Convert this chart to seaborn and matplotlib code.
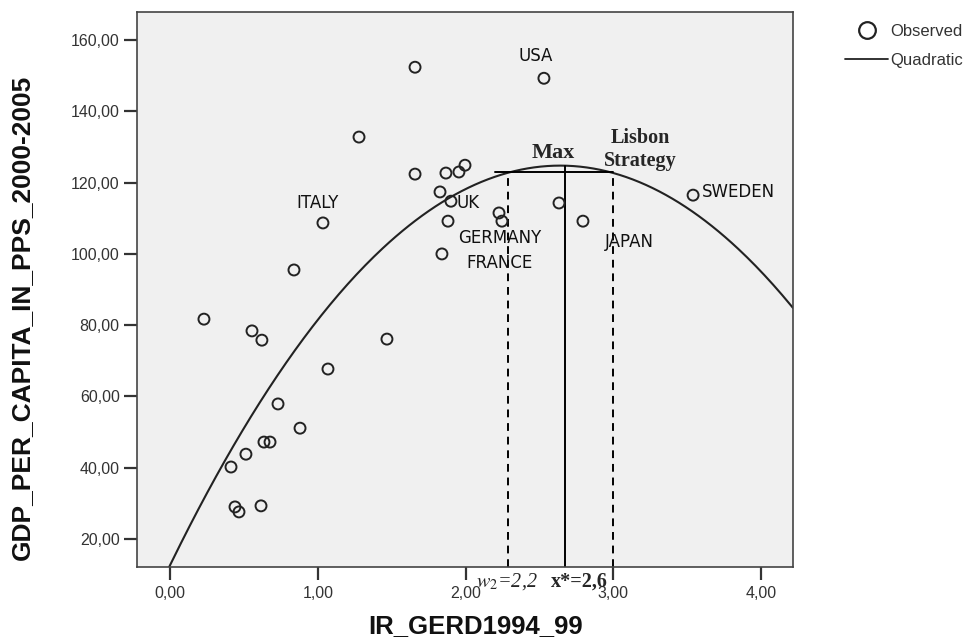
import numpy as np
import pandas as pd
import matplotlib
matplotlib.use("Agg")
import matplotlib.pyplot as plt
from matplotlib.lines import Line2D
from matplotlib.ticker import FuncFormatter
import seaborn as sns

ir_gerd = [0.23, 0.555, 0.622, 0.839, 1.035, 1.279, 1.658, 1.658, 1.867, 1.955,
           1.996, 1.827, 1.901, 1.881, 1.840, 2.226, 2.246, 2.530, 2.632, 2.794,
           3.539, 1.468, 1.069, 0.731, 0.880, 0.636, 0.677, 0.514, 0.413, 0.440,
           0.467, 0.616]
gdp_pps = [81.7, 78.4, 75.8, 95.5, 108.7, 132.8, 152.4, 122.4, 122.7, 123.0,
           124.9, 117.4, 114.8, 109.2, 100.0, 111.5, 109.2, 149.3, 114.3, 109.2,
           116.5, 76.1, 67.7, 57.9, 51.1, 47.2, 47.2, 43.8, 40.2, 29.0,
           27.6, 29.3]

# quadratic fit coefficients: y = b0 + b1*x + b2*x^2
b0, b1, b2 = 12.6, 85.0, -16.1

country_names = ["USA", "ITALY", "UK", "GERMANY", "FRANCE", "JAPAN", "SWEDEN"]
country_x = [2.476, 1.0, 1.94, 2.23, 2.23, 3.105, 3.60]
country_y = [155.5, 114.3, 114.3, 104.4, 97.4, 103.3, 117.4]
country_ha = ["center", "center", "left", "center", "center", "center", "left"]

# reference lines
w2_x = 2.29
xstar_x = 2.67
lisbon_x = 3.0
plateau_y = 123.0
peak_y = 124.8

xticks = [0, 1, 2, 3, 4]
yticks = [20, 40, 60, 80, 100, 120, 140, 160]

ink = "#222222"

sns.set_style("ticks")
plt.rcParams["font.family"] = ["Liberation Sans", "DejaVu Sans"]
plt.rcParams["mathtext.fontset"] = "stix"

fig = plt.figure(figsize=(9.68, 6.41), dpi=100)
ax = fig.add_axes([137 / 968, 1 - 567 / 641, 656 / 968, 555 / 641])
ax.set_facecolor("#f0f0f0")

xlim = (-0.223, 4.215)
ylim = (12.14, 167.9)

df = pd.DataFrame({"x": ir_gerd, "y": gdp_pps})
sns.scatterplot(data=df, x="x", y="y", ax=ax, s=62, facecolor="none",
                edgecolor=ink, linewidth=1.4, zorder=3)

xs = np.linspace(xlim[0], xlim[1], 300)
curve = pd.DataFrame({"x": xs, "y": b0 + b1 * xs + b2 * xs ** 2})
sns.lineplot(data=curve, x="x", y="y", ax=ax, color=ink, linewidth=1.5, zorder=2)

# Max / Lisbon lines
ax.plot([w2_x, w2_x], [ylim[0], plateau_y], color="black", lw=1.4, ls=(0, (4, 3)))
ax.plot([lisbon_x, lisbon_x], [ylim[0], plateau_y], color="black", lw=1.4, ls=(0, (4, 3)))
ax.plot([xstar_x, xstar_x], [ylim[0], peak_y], color="black", lw=1.4)
ax.plot([2.20, lisbon_x], [plateau_y, plateau_y], color="black", lw=1.4)

for name, tx, ty, ha in zip(country_names, country_x, country_y, country_ha):
    ax.text(tx, ty, name, ha=ha, va="center", fontsize=12,
            family="DejaVu Sans", color="#111111")

ax.text(2.59, 128.3, "Max", ha="center", va="center", fontsize=16,
        family="Liberation Serif", fontweight="bold")
ax.text(3.18, 129.3, "Lisbon\nStrategy", ha="center", va="center", fontsize=14.5,
        family="Liberation Serif", fontweight="bold", linespacing=1.15)

ax.annotate(r"$w_2$=2,2", xy=(2.28, -0.027), xycoords=("data", "axes fraction"),
            ha="center", va="center", fontsize=14.5, family="Liberation Serif",
            fontstyle="italic", annotation_clip=False)
ax.annotate("x*=2,6", xy=(2.767, -0.027), xycoords=("data", "axes fraction"),
            ha="center", va="center", fontsize=14.5, family="Liberation Serif",
            fontweight="bold", annotation_clip=False)

ax.set_xlim(*xlim)
ax.set_ylim(*ylim)
ax.set_xticks(xticks)
ax.set_yticks(yticks)
fmt = FuncFormatter(lambda v, p: f"{v:.2f}".replace(".", ","))
ax.xaxis.set_major_formatter(fmt)
ax.yaxis.set_major_formatter(fmt)
ax.tick_params(axis="both", direction="out", length=9.5, width=1.6, color="#333333",
               labelsize=11.5, labelcolor="#333333")
ax.tick_params(axis="y", pad=3)
ax.tick_params(axis="x", pad=4.5)
for sp in ax.spines.values():
    sp.set_visible(True)
    sp.set_color("#444444")
    sp.set_linewidth(1.2)
ax.set_xlabel("")
ax.set_ylabel("")

fig.text(476 / 968, 1 - 626 / 641, "IR_GERD1994_99", ha="center", va="center",
         fontsize=18.5, fontweight="bold", color="#111111")
fig.text(22 / 968, 1 - 317 / 641, "GDP_PER_CAPITA_IN_PPS_2000-2005", ha="center",
         va="center", rotation=90, fontsize=19, fontweight="bold", color="#111111")

handles = [Line2D([], [], marker="o", ls="", mfc="none", mec=ink, mew=1.6, ms=12),
           Line2D([], [], color=ink, lw=1.3)]
fig.legend(handles, ["Observed", "Quadratic"], loc="upper left",
           bbox_to_anchor=(845 / 968, 1 - 24 / 641), frameon=False, fontsize=12,
           handlelength=2.6, handletextpad=0.12, labelspacing=0.85, borderpad=0,
           borderaxespad=0, labelcolor="#333333")

fig.savefig("out.png", dpi=100)
